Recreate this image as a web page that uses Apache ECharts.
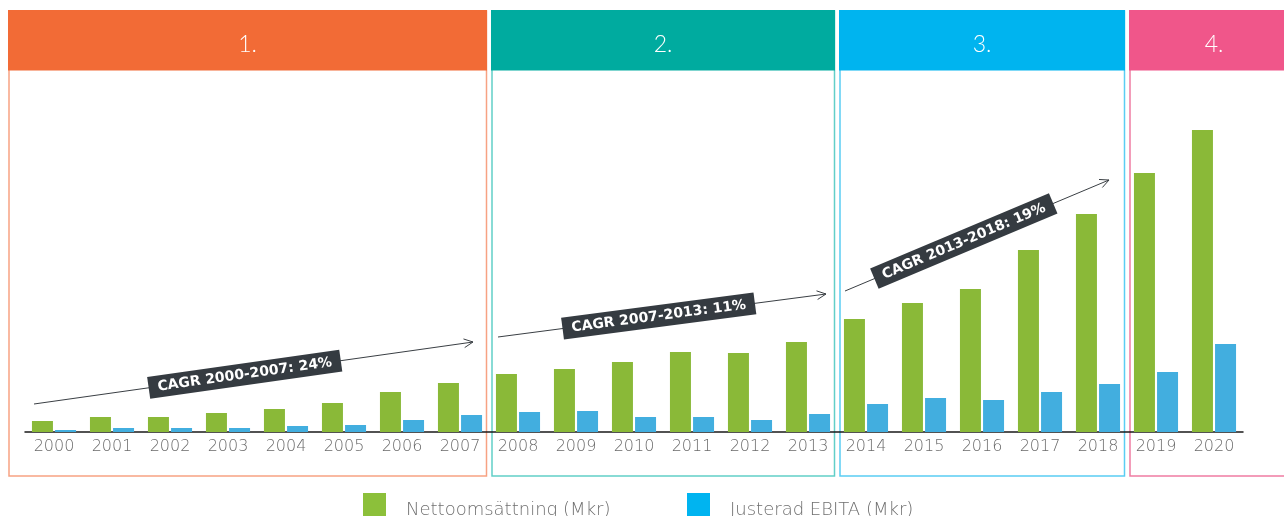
<!DOCTYPE html>
<html><head><meta charset="utf-8">
<script src="https://cdn.jsdelivr.net/npm/echarts@6.0.0/dist/echarts.min.js"></script>
<style>html,body{margin:0;padding:0;background:#fff}#c{width:1284px;height:516px}</style>
</head><body><div id="c"></div>
<script>
// ---- data (Mkr) ----
const years = ['2000','2001','2002','2003','2004','2005','2006','2007','2008','2009','2010','2011','2012','2013','2014','2015','2016','2017','2018','2019','2020'];
const netSales = [110,150,150,190,230,290,400,490,580,630,700,800,790,900,1130,1290,1430,1820,2180,2590,3020];
const ebita    = [20,40,40,40,60,70,120,170,200,210,150,150,120,180,280,340,320,400,480,600,880];
const seriesNames = ['Nettoomsättning (Mkr)', 'Justerad EBITA (Mkr)'];
const periodLabels = ['1.', '2.', '3.', '4.'];
const periodFirst = ['2000', '2008', '2014', '2019'];
const periodLast  = ['2007', '2013', '2018', '2020'];
const cagrLabels = ['CAGR 2000-2007: 24%', 'CAGR 2007-2013: 11%', 'CAGR 2013-2018: 19%'];

// ---- styles ----
const headColors = ['#F26B36', '#00AB9F', '#00B4EF', '#F0568A'];
const lineColors = ['#F7A283', '#62CFC8', '#5ACDF3', '#F07CA3'];
const barGreen = '#8AB938', barBlue = '#42AEDF';
const legGreen = '#8CC03A', legBlue = '#00B4F0';
const thinFont = 'DejaVu Sans';
// annotation arrows (pixel layout): start, end, label position along arrow
const arrows = [
  {x1: 34, y1: 404, x2: 473, y2: 342, t: 0.48},
  {x1: 498, y1: 337, x2: 826, y2: 294, t: 0.49},
  {x1: 845, y1: 291, x2: 1109, y2: 180, t: 0.45}
];

const chart = echarts.init(document.getElementById('c'));
const legendText = {
  fontFamily: thinFont, fontWeight: 200, fontSize: 18, color: '#6f6f6f',
  rich: {a: {fontFamily: thinFont, fontWeight: 200, fontSize: 18, color: '#6f6f6f', padding: [12, 0, 0, 15]}}
};
chart.setOption({
  animation: false,
  backgroundColor: '#fff',
  grid: {left: 25, right: 41, top: 72, bottom: 84, containLabel: false},
  xAxis: {
    type: 'category', data: years,
    axisLine: {lineStyle: {color: '#1a1a1a', width: 1.5}},
    axisTick: {show: false},
    axisLabel: {color: '#6a6a6a', fontSize: 16, fontFamily: thinFont, fontWeight: 200, margin: 7}
  },
  yAxis: {type: 'value', min: 0, max: 3600, show: false},
  legend: [
    {left: 363, top: 493, padding: 0, itemWidth: 23, itemHeight: 23, icon: 'rect',
     formatter: '{a|{name}}',
     data: [{name: seriesNames[0], itemStyle: {color: legGreen}}], textStyle: legendText},
    {left: 687, top: 493, padding: 0, itemWidth: 23, itemHeight: 23, icon: 'rect',
     formatter: '{a|{name}}',
     data: [{name: seriesNames[1], itemStyle: {color: legBlue}}], textStyle: legendText}
  ],
  series: [
    {name: seriesNames[0], type: 'bar', data: netSales, barWidth: 21, barGap: '10%',
     itemStyle: {color: barGreen}, z: 3},
    {name: seriesNames[1], type: 'bar', data: ebita, barWidth: 21,
     itemStyle: {color: barBlue}, z: 3}
  ]
});

// ---- decorations anchored to the category axis ----
const px = name => chart.convertToPixel({xAxisIndex: 0}, name);
const band = px(years[1]) - px(years[0]);
const graphics = [];
periodLabels.forEach((lab, i) => {
  let x0 = px(periodFirst[i]) - band / 2 + 2;
  let x1 = px(periodLast[i]) + band / 2 - 2;
  if (i === 0) x0 = px(periodFirst[i]) - band / 2 - 17;
  let tx = (x0 + x1) / 2;
  if (i === periodLabels.length - 1) { x1 = 1300; tx = px(periodLast[i]); }
  graphics.push({type: 'rect', z: 0, silent: true,
    shape: {x: x0 + 1, y: 11, width: x1 - x0 - 1.5, height: 465},
    style: {fill: 'none', stroke: lineColors[i], lineWidth: 1.5}});
  graphics.push({type: 'rect', z: 1, silent: true,
    shape: {x: x0, y: 10, width: x1 - x0, height: 60.5},
    style: {fill: headColors[i]}});
  graphics.push({type: 'text', z: 2, silent: true,
    style: {text: lab, x: tx, y: 45, align: 'center', verticalAlign: 'middle',
      fill: '#fff', fontSize: 23, fontFamily: 'Lato', fontWeight: 300}});
});

arrows.forEach((a, i) => {
  const dx = a.x2 - a.x1, dy = a.y2 - a.y1;
  const ang = Math.atan2(dy, dx);
  const hl = 10, ha = 0.45;
  graphics.push({type: 'line', z: 20, silent: true,
    shape: {x1: a.x1, y1: a.y1, x2: a.x2, y2: a.y2},
    style: {stroke: '#3a3f44', lineWidth: 1}});
  graphics.push({type: 'polyline', z: 20, silent: true,
    shape: {points: [
      [a.x2 - hl * Math.cos(ang - ha), a.y2 - hl * Math.sin(ang - ha)],
      [a.x2, a.y2],
      [a.x2 - hl * Math.cos(ang + ha), a.y2 - hl * Math.sin(ang + ha)]]},
    style: {stroke: '#3a3f44', lineWidth: 1, fill: 'none'}});
  graphics.push({type: 'group', z: 21, silent: true,
    x: a.x1 + dx * a.t, y: a.y1 + dy * a.t, rotation: -ang,
    children: [
      {type: 'rect', z: 21, shape: {x: -97, y: -11, width: 194, height: 22}, style: {fill: '#353B41'}},
      {type: 'text', z: 22, style: {text: cagrLabels[i], x: 0, y: 0.5, align: 'center', verticalAlign: 'middle',
        fill: '#fff', fontSize: 14, fontWeight: 'bold', fontFamily: 'DejaVu Sans'}}
    ]});
});
chart.setOption({graphic: {elements: graphics}});
</script>
</body></html>
